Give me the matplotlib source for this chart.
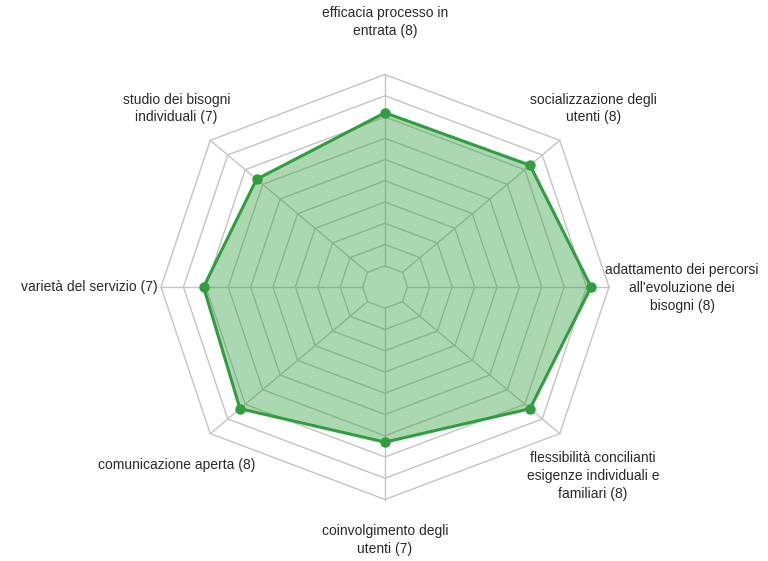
import numpy as np
import matplotlib
matplotlib.use("Agg")
import matplotlib.pyplot as plt

plt.rcParams['font.family'] = ['Liberation Sans', 'DejaVu Sans']

# categories clockwise starting at the top
categories = [
    "efficacia processo in\nentrata (8)",
    "socializzazione degli\nutenti (8)",
    "adattamento dei percorsi\nall'evoluzione dei\nbisogni (8)",
    "flessibilità concilianti\nesigenze individuali e\nfamiliari (8)",
    "coinvolgimento degli\nutenti (7)",
    "comunicazione aperta (8)",
    "varietà del servizio (7)",
    "studio dei bisogni\nindividuali (7)",
]
values = [8.2, 8.3, 9.2, 8.3, 7.3, 8.3, 8.1, 7.35]
ring_levels = list(range(1, 11))

# spoke directions (the source picture is a little wider on the diagonals)
dx = np.array([0, 0.78, 1, 0.78, 0, -0.78, -1, -0.78])
dy = np.array([1, 0.69, 0, -0.69, -1, -0.69, 0, 0.69])

# label anchor points (x, y in data units) and alignment
label_pos = [(0, 12.45, 'center'), (9.29, 8.4, 'center'), (13.26, -0.05, 'center'),
             (9.29, -8.9, 'center'), (0, -11.9, 'center'), (-9.31, -8.38, 'center'),
             (-10.13, -0.02, 'right'), (-9.31, 8.4, 'center')]

line_col = '#2e9e3e'
grid_col = '#c4c4c4'

fig = plt.figure(figsize=(7.68, 5.61), dpi=100)
ax = fig.add_axes([0, 0, 1, 1])
# horizontal unit ~22.4 px, vertical ~21.25 px, centre at (385, 287) px
ax.set_xlim(-385 / 22.4, (768 - 385) / 22.4)
ax.set_ylim(-(561 - 287) / 21.25, 287 / 21.25)
ax.axis('off')

# grid rings (octagons) and spokes
for r in ring_levels:
    ax.plot(np.append(r * dx, r * dx[0]), np.append(r * dy, r * dy[0]),
            color=grid_col, lw=1.0, zorder=1)
for i in range(len(categories)):
    ax.plot([ring_levels[0] * dx[i], ring_levels[-1] * dx[i]],
            [ring_levels[0] * dy[i], ring_levels[-1] * dy[i]],
            color=grid_col, lw=1.0, zorder=1)

# data polygon
v = np.array(values)
xs, ys = v * dx, v * dy
ax.fill(xs, ys, color=line_col, alpha=0.4, lw=0, zorder=2)
ax.plot(np.append(xs, xs[0]), np.append(ys, ys[0]), color=line_col, lw=2.2, zorder=3)
ax.plot(xs, ys, 'o', color=line_col, ms=6.5, zorder=4)

for lab, (lx, ly, ha) in zip(categories, label_pos):
    ax.text(lx, ly, lab, ha=ha, va='center', fontsize=10, color='#2a2a2a',
            linespacing=1.36, multialignment='center')

fig.savefig('out.png', dpi=100)
